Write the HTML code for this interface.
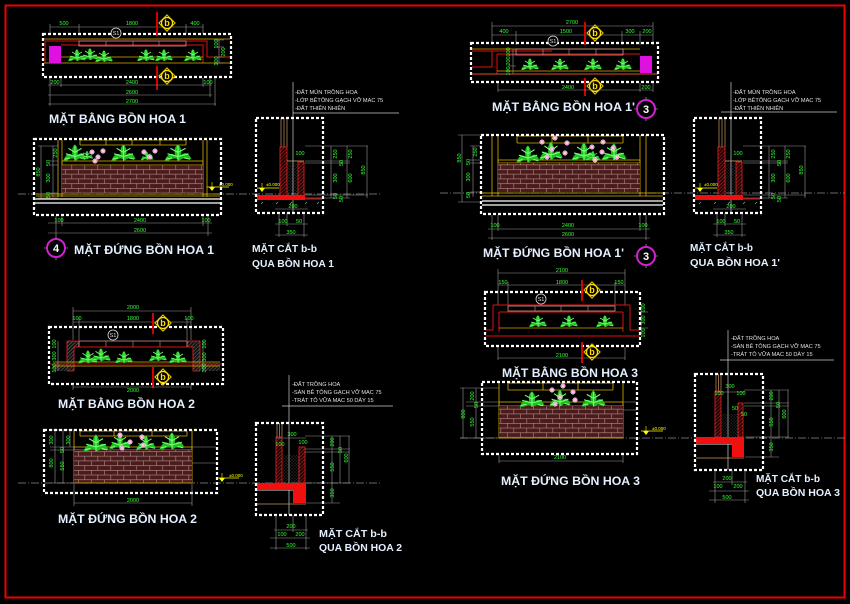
<!DOCTYPE html>
<html><head><meta charset="utf-8">
<style>
html,body{margin:0;padding:0;background:#000}
svg{display:block}
.t{font:bold 12px "Liberation Sans",sans-serif;fill:#e4f0ff}
.s{font:bold 10.5px "Liberation Sans",sans-serif;fill:#e4f0ff}
.d{font:5.5px "Liberation Sans",sans-serif;fill:#3f3}
.n{font:5.6px "Liberation Sans",sans-serif;fill:#e0e0e0}
.e{font:4.5px "Liberation Sans",sans-serif;fill:#ff0}
.bx{fill:none;stroke:#fff;stroke-width:2.2;stroke-dasharray:3 2}
.dl{stroke:#9a9a9a;stroke-width:.6;fill:none}
.y{stroke:#d8b000;stroke-width:.8;fill:none}
.r{stroke:#e01010;stroke-width:1;fill:none}
.cl{stroke:#8a8a8a;stroke-width:.7;stroke-dasharray:8 2 1 2;fill:none}
.mb{font:bold 9px "Liberation Sans",sans-serif;fill:#ffe000}
</style></head><body>
<svg width="850" height="604" viewBox="0 0 850 604" xmlns="http://www.w3.org/2000/svg" xmlns:xlink="http://www.w3.org/1999/xlink">
<defs>
<pattern id="br" width="13" height="9.4" patternUnits="userSpaceOnUse">
<rect width="13" height="9.4" fill="#4a1c1c"/>
<path d="M0 .3H13M0 5H13M.3 0V4.7M6.8 4.7V9.4" stroke="#b08888" stroke-width=".6"/>
</pattern>
<pattern id="ht" width="2.5" height="2.5" patternUnits="userSpaceOnUse" patternTransform="rotate(45)">
<rect width="2.5" height="2.5" fill="#200"/><line x1="0" y1="0" x2="0" y2="2.5" stroke="#e44" stroke-width=".7"/>
</pattern>
<pattern id="hg" width="2.5" height="2.5" patternUnits="userSpaceOnUse" patternTransform="rotate(45)">
<rect width="2.5" height="2.5" fill="#111"/><line x1="0" y1="0" x2="0" y2="2.5" stroke="#999" stroke-width=".7"/>
</pattern>
<pattern id="dt" width="3" height="3" patternUnits="userSpaceOnUse">
<circle cx="1" cy="1" r=".4" fill="#aaa"/><circle cx="2.4" cy="2.2" r=".3" fill="#777"/>
</pattern>
<g id="sh">
<path d="M1 13 Q4 6 8 9 Q7 3 10 1 Q13 4 12 9 Q16 5 19 12 Q14 10 11 13 Q8 10 4 13Z" fill="#1fbf1f"/>
<path d="M10 13V2M10 7L5 4M10 7L15 4M10 10L3 8M10 10L17 8M6 11L2 12M14 11L18 12" stroke="#7f7" stroke-width=".8" fill="none"/>
</g>
<g id="fl"><circle r="2.3" fill="#f4a0d0" stroke="#fff" stroke-width=".4"/><circle r=".8" fill="#fff"/></g>
<g id="mk"><path d="M0 -8L8 0L0 8L-8 0Z" fill="none" stroke="#e0c000" stroke-width="1.2"/><circle r="5.5" fill="#000" stroke="#ffe000" stroke-width="1.2"/></g>
<g id="elv"><path d="M0 0L6 0L3 4Z" fill="#ff0"/><line x1="-2" y1="0" x2="20" y2="0" stroke="#ff0" stroke-width=".7"/><line x1="3" y1="-5" x2="3" y2="0" stroke="#ff0" stroke-width=".6"/></g>
</defs>

<rect x="5.5" y="5.5" width="839" height="592" fill="none" stroke="#e00" stroke-width="2"/>

<!-- centerlines -->
<path class="cl" d="M18 194H380M440 193H845M18 483H380M460 438H845"/>

<!-- ===== PLAN 1 ===== -->
<g>
<path class="dl" d="M50 27H203M50 24V34M79 24V34M186 24V34M203 24V34"/>
<text class="d" x="64" y="25" text-anchor="middle">500</text>
<text class="d" x="132" y="25" text-anchor="middle">1800</text>
<text class="d" x="195" y="25" text-anchor="middle">400</text>
<line x1="44" y1="39" x2="230" y2="39" class="y"/>
<path class="r" d="M45 41H207V57H230M45 41V63M61 45H203V63"/>
<line x1="61" y1="57" x2="203" y2="57" class="y"/>
<line x1="44" y1="63" x2="230" y2="63" class="y"/>
<rect x="79" y="41" width="107" height="5" fill="none" stroke="#c89090" stroke-width=".8"/>
<path d="M106 41V46M133 41V46M159 41V46" stroke="#c89090" stroke-width=".6"/>
<rect x="49" y="46" width="12" height="17" fill="#e010e0"/>
<use xlink:href="#sh" transform="translate(67 48)"/>
<use xlink:href="#sh" transform="translate(80 47)"/>
<use xlink:href="#sh" transform="translate(94 49)"/>
<use xlink:href="#sh" transform="translate(136 48)"/>
<use xlink:href="#sh" transform="translate(154 48)"/>
<use xlink:href="#sh" transform="translate(183 48)"/>
<path class="dl" d="M219 40V63M214 40H224M214 47H224M214 57H224M214 63H224"/>
<text class="d" transform="rotate(-90 218 44)" x="218" y="44" text-anchor="middle">100</text>
<text class="d" transform="rotate(-90 225 52)" x="225" y="52" text-anchor="middle">200</text>
<text class="d" transform="rotate(-90 218 61)" x="218" y="61" text-anchor="middle">100</text>
<rect class="bx" x="43" y="34" width="188" height="43"/>
<line x1="157" y1="12" x2="157" y2="36" stroke="#e00" stroke-width="1.8"/>
<line x1="157" y1="66" x2="157" y2="90" stroke="#e00" stroke-width="1.8"/>
<use xlink:href="#mk" x="167" y="23"/><text class="mb" x="167" y="26" text-anchor="middle">b</text>
<use xlink:href="#mk" x="167" y="76"/><text class="mb" x="167" y="79" text-anchor="middle">b</text>
<circle cx="116" cy="33" r="5" fill="#000" stroke="#ddd" stroke-width=".8"/>
<text class="n" x="116" y="35" text-anchor="middle">S1</text>
<path class="dl" d="M48 85H212M48 95H212M48 104H216M50 78V106M61 78V87M203 78V87M210 78V97M215 78V106"/>
<text class="d" x="55" y="84" text-anchor="middle">200</text>
<text class="d" x="132" y="84" text-anchor="middle">2400</text>
<text class="d" x="208" y="84" text-anchor="middle">100</text>
<text class="d" x="132" y="94" text-anchor="middle">2600</text>
<text class="d" x="132" y="103" text-anchor="middle">2700</text>
<text class="t" x="49" y="123" textLength="137" lengthAdjust="spacingAndGlyphs">MẶT BẰNG BỒN HOA 1</text>
</g>

<!-- ===== ELEVATION 1 ===== -->
<g>
<path class="y" d="M80 140H186M80 145H186M80 140V145M106 140V145M132 140V145M160 140V145M186 140V145"/>
<path class="y" d="M58 140V197M62 140V197M203 140V197M207 140V197"/>
<rect x="62" y="161" width="141" height="4" fill="none" stroke="#d8b000" stroke-width=".8"/>
<rect x="62" y="165" width="141" height="28" fill="url(#br)"/>
<path class="y" d="M36 194H220M36 196H220"/>
<path d="M35 199H220M35 203H220" stroke="#fff" stroke-width="1.2"/>
<use xlink:href="#sh" transform="translate(62 143) scale(1.3 1.35)"/>
<use xlink:href="#sh" transform="translate(110 143) scale(1.35 1.35)"/>
<use xlink:href="#sh" transform="translate(163 143) scale(1.5 1.35)"/>
<use xlink:href="#sh" transform="translate(80 150) scale(.7)"/>
<use xlink:href="#sh" transform="translate(140 151) scale(.7)"/>
<use xlink:href="#fl" x="92" y="152"/><use xlink:href="#fl" x="98" y="157"/><use xlink:href="#fl" x="103" y="151"/><use xlink:href="#fl" x="95" y="161"/>
<use xlink:href="#fl" x="144" y="152"/><use xlink:href="#fl" x="150" y="157"/><use xlink:href="#fl" x="155" y="151"/>
<path class="dl" d="M41 146V198M38 146H58M38 198H58M53 146V197M50 161H58M50 165H58M50 193H58"/>
<text class="d" transform="rotate(-90 40 172)" x="40" y="172" text-anchor="middle">850</text>
<text class="d" transform="rotate(-90 57 153)" x="57" y="153" text-anchor="middle">250</text>
<text class="d" transform="rotate(-90 50 163)" x="50" y="163" text-anchor="middle">50</text>
<text class="d" transform="rotate(-90 50 178)" x="50" y="178" text-anchor="middle">300</text>
<text class="d" transform="rotate(-90 50 195)" x="50" y="195" text-anchor="middle">50</text>
<use xlink:href="#elv" x="209" y="187"/>
<text class="e" x="219" y="186">±0.000</text>
<rect class="bx" x="34" y="139" width="187" height="76"/>
<path class="dl" d="M48 223H212M48 233H212M56 216V236M62 216V226M203 216V226M208 216V236"/>
<text class="d" x="59" y="222" text-anchor="middle">100</text>
<text class="d" x="140" y="222" text-anchor="middle">2400</text>
<text class="d" x="206" y="222" text-anchor="middle">100</text>
<text class="d" x="140" y="232" text-anchor="middle">2600</text>
<path d="M56 236V260M44 248H68" stroke="#ccc" stroke-width=".6"/>
<circle cx="56" cy="248" r="9" fill="#000" stroke="#d020d0" stroke-width="2"/>
<text x="56" y="252" text-anchor="middle" style="font:bold 11px 'Liberation Sans',sans-serif;fill:#fff">4</text>
<text class="t" x="74" y="254" textLength="140" lengthAdjust="spacingAndGlyphs">MẶT ĐỨNG BỒN HOA 1</text>
</g>

<!-- ===== SECTION 1 ===== -->
<g id="s1g">
<line x1="293" y1="82" x2="293" y2="213" stroke="#ccc" stroke-width=".7"/>
<text class="n" x="295" y="94">-ĐẤT MÙN TRỒNG HOA</text>
<text class="n" x="295" y="102">-LỚP BÊTÔNG GẠCH VỠ MAC 75</text>
<text class="n" x="295" y="110">-ĐẤT THIÊN NHIÊN</text>
<line x1="293" y1="113" x2="399" y2="113" stroke="#ccc" stroke-width=".7"/>
<path d="M281 118V147M284 118V147M287 118V147" stroke="#c89860" stroke-width=".7"/>
<rect x="280" y="147" width="7" height="50" fill="url(#ht)" stroke="#e22" stroke-width=".8"/>
<rect x="287" y="163" width="11" height="32" fill="url(#dt)"/>
<rect x="298" y="162" width="6" height="35" fill="url(#ht)" stroke="#e22" stroke-width=".8"/>
<line x1="287" y1="161" x2="304" y2="161" stroke="#d8b070" stroke-width=".8"/>
<rect x="257" y="195" width="48" height="5" fill="#f01010"/>
<line x1="305" y1="199" x2="322" y2="199" stroke="#f01010" stroke-width="1"/>
<use xlink:href="#elv" x="259" y="188"/>
<text class="e" x="266" y="186">±0.000</text>
<path d="M261 204l2 -2M276 204l2 -2M290 204l2 -2M305 204l2 -2M317 204l2 -2" stroke="#aaa" stroke-width=".6"/>
<path class="dl" d="M305 146H368M305 161H350M305 163H350M305 195H368M305 198H350M331 146V198M347 146V198M367 146V198"/>
<text class="d" transform="rotate(-90 337 154)" x="337" y="154" text-anchor="middle">250</text>
<text class="d" transform="rotate(-90 343 163)" x="343" y="163" text-anchor="middle">50</text>
<text class="d" transform="rotate(-90 337 178)" x="337" y="178" text-anchor="middle">300</text>
<text class="d" transform="rotate(-90 337 196)" x="337" y="196" text-anchor="middle">50</text>
<text class="d" transform="rotate(-90 343 199)" x="343" y="199" text-anchor="middle">50</text>
<text class="d" transform="rotate(-90 352 154)" x="352" y="154" text-anchor="middle">250</text>
<text class="d" transform="rotate(-90 352 178)" x="352" y="178" text-anchor="middle">600</text>
<text class="d" transform="rotate(-90 365 170)" x="365" y="170" text-anchor="middle">850</text>
<text class="d" x="300" y="155" text-anchor="middle">100</text>
<rect class="bx" x="256" y="118" width="67" height="95"/>
<path class="dl" d="M279 213V237M287 213V226M304 213V237M275 209H308M275 224H308M275 235H308"/>
<text class="d" x="293" y="208" text-anchor="middle">200</text>
<text class="d" x="283" y="223" text-anchor="middle">100</text>
<text class="d" x="299" y="223" text-anchor="middle">50</text>
<text class="d" x="291" y="234" text-anchor="middle">350</text>
</g>
<text class="s" x="252" y="252" textLength="65" lengthAdjust="spacingAndGlyphs">MẶT CẮT b-b</text>
<text class="s" x="252" y="267" textLength="82" lengthAdjust="spacingAndGlyphs">QUA BỒN HOA 1</text>

<!-- ===== SECTION 1' ===== -->
<g transform="translate(438 0)">
<line x1="293" y1="82" x2="293" y2="213" stroke="#ccc" stroke-width=".7"/>
<text class="n" x="295" y="94">-ĐẤT MÙN TRỒNG HOA</text>
<text class="n" x="295" y="102">-LỚP BÊTÔNG GẠCH VỠ MAC 75</text>
<text class="n" x="295" y="110">-ĐẤT THIÊN NHIÊN</text>
<line x1="283" y1="112" x2="399" y2="112" stroke="#ccc" stroke-width=".7"/>
<path d="M281 118V147M284 118V147M287 118V147" stroke="#c89860" stroke-width=".7"/>
<rect x="280" y="147" width="7" height="50" fill="url(#ht)" stroke="#e22" stroke-width=".8"/>
<rect x="287" y="163" width="11" height="32" fill="url(#dt)"/>
<rect x="298" y="162" width="6" height="35" fill="url(#ht)" stroke="#e22" stroke-width=".8"/>
<line x1="287" y1="161" x2="304" y2="161" stroke="#d8b070" stroke-width=".8"/>
<rect x="257" y="195" width="48" height="5" fill="#f01010"/>
<line x1="305" y1="199" x2="322" y2="199" stroke="#f01010" stroke-width="1"/>
<use xlink:href="#elv" x="259" y="188"/>
<text class="e" x="266" y="186">±0.000</text>
<path d="M261 204l2 -2M276 204l2 -2M290 204l2 -2M305 204l2 -2M317 204l2 -2" stroke="#aaa" stroke-width=".6"/>
<path class="dl" d="M305 146H368M305 161H350M305 163H350M305 195H368M305 198H350M331 146V198M347 146V198M367 146V198"/>
<text class="d" transform="rotate(-90 337 154)" x="337" y="154" text-anchor="middle">250</text>
<text class="d" transform="rotate(-90 343 163)" x="343" y="163" text-anchor="middle">50</text>
<text class="d" transform="rotate(-90 337 178)" x="337" y="178" text-anchor="middle">300</text>
<text class="d" transform="rotate(-90 337 196)" x="337" y="196" text-anchor="middle">50</text>
<text class="d" transform="rotate(-90 343 199)" x="343" y="199" text-anchor="middle">50</text>
<text class="d" transform="rotate(-90 352 154)" x="352" y="154" text-anchor="middle">250</text>
<text class="d" transform="rotate(-90 352 178)" x="352" y="178" text-anchor="middle">600</text>
<text class="d" transform="rotate(-90 365 170)" x="365" y="170" text-anchor="middle">850</text>
<text class="d" x="300" y="155" text-anchor="middle">100</text>
<rect class="bx" x="256" y="118" width="67" height="95"/>
<path class="dl" d="M279 213V237M287 213V226M304 213V237M275 209H308M275 224H308M275 235H308"/>
<text class="d" x="293" y="208" text-anchor="middle">200</text>
<text class="d" x="283" y="223" text-anchor="middle">100</text>
<text class="d" x="299" y="223" text-anchor="middle">50</text>
<text class="d" x="291" y="234" text-anchor="middle">350</text>
</g>
<text class="s" x="690" y="251" textLength="63" lengthAdjust="spacingAndGlyphs">MẶT CẮT b-b</text>
<text class="s" x="690" y="266" textLength="90" lengthAdjust="spacingAndGlyphs">QUA BỒN HOA 1'</text>

<!-- ===== PLAN 1' ===== -->
<g>
<path class="dl" d="M492 26H653M492 35H653M492 22V45M516 31V45M622 31V45M640 31V45M653 22V45"/>
<text class="d" x="572" y="24" text-anchor="middle">2700</text>
<text class="d" x="504" y="33" text-anchor="middle">400</text>
<text class="d" x="566" y="33" text-anchor="middle">1500</text>
<text class="d" x="630" y="33" text-anchor="middle">300</text>
<text class="d" x="647" y="33" text-anchor="middle">200</text>
<line x1="472" y1="49" x2="640" y2="49" class="y"/>
<path class="r" d="M472 51H552M492 51V67H472M497 54H640M497 54V74"/>
<rect x="516" y="49" width="107" height="6" fill="none" stroke="#c89090" stroke-width=".8"/>
<path d="M543 49V55M569 49V55M596 49V55" stroke="#c89090" stroke-width=".6"/>
<line x1="497" y1="71" x2="640" y2="71" class="y"/>
<line x1="472" y1="74" x2="658" y2="74" stroke="#e05020" stroke-width=".9"/>
<rect x="640" y="56" width="12" height="17" fill="#e010e0"/>
<use xlink:href="#sh" transform="translate(520 57)"/>
<use xlink:href="#sh" transform="translate(550 57)"/>
<use xlink:href="#sh" transform="translate(583 57)"/>
<use xlink:href="#sh" transform="translate(613 57)"/>
<path class="dl" d="M513 49V74M508 55H516M508 66H516"/>
<text class="d" transform="rotate(-90 510 52)" x="510" y="52" text-anchor="middle">100</text>
<text class="d" transform="rotate(-90 510 61)" x="510" y="61" text-anchor="middle">200</text>
<text class="d" transform="rotate(-90 510 71)" x="510" y="71" text-anchor="middle">100</text>
<rect class="bx" x="471" y="43" width="187" height="39"/>
<line x1="585" y1="22" x2="585" y2="45" stroke="#e00" stroke-width="1.8"/>
<line x1="585" y1="78" x2="585" y2="96" stroke="#e00" stroke-width="1.8"/>
<use xlink:href="#mk" x="595" y="33"/><text class="mb" x="595" y="36" text-anchor="middle">b</text>
<use xlink:href="#mk" x="595" y="86"/><text class="mb" x="595" y="89" text-anchor="middle">b</text>
<circle cx="553" cy="41" r="5" fill="#000" stroke="#ddd" stroke-width=".8"/>
<text class="n" x="553" y="43" text-anchor="middle">S1</text>
<path class="dl" d="M498 90H653M498 83V92M640 83V92M653 83V92"/>
<text class="d" x="568" y="89" text-anchor="middle">2400</text>
<text class="d" x="646" y="89" text-anchor="middle">200</text>
<text class="t" x="492" y="111" textLength="143" lengthAdjust="spacingAndGlyphs">MẶT BẰNG BỒN HOA 1'</text>
<path d="M646 97V121M634 109H658" stroke="#ccc" stroke-width=".6"/>
<circle cx="646" cy="109" r="9" fill="#000" stroke="#d020d0" stroke-width="2"/>
<text x="646" y="113" text-anchor="middle" style="font:bold 11px 'Liberation Sans',sans-serif;fill:#fff">3</text>
</g>

<!-- ===== ELEVATION 1' ===== -->
<g>
<path class="y" d="M517 136H623M517 143H623M517 136V143M552 136V143M588 136V143M623 136V143"/>
<path class="y" d="M492 135V196M498 135V196M640 135V196M646 135V196"/>
<rect x="498" y="160" width="142" height="3" fill="none" stroke="#d8b000" stroke-width=".8"/>
<rect x="498" y="163" width="142" height="29" fill="url(#br)"/>
<path class="y" d="M482 193H663M482 196H663"/>
<path d="M482 201H663M482 205H663" stroke="#fff" stroke-width="1.2"/>
<use xlink:href="#sh" transform="translate(515 144) scale(1.3 1.4)"/>
<use xlink:href="#sh" transform="translate(538 140) scale(1.3 1.5)"/>
<use xlink:href="#sh" transform="translate(570 141) scale(1.4 1.5)"/>
<use xlink:href="#sh" transform="translate(600 142) scale(1.4 1.4)"/>
<use xlink:href="#sh" transform="translate(585 150) scale(.8)"/>
<use xlink:href="#fl" x="542" y="142"/><use xlink:href="#fl" x="555" y="138"/><use xlink:href="#fl" x="552" y="149"/>
<use xlink:href="#fl" x="567" y="143"/><use xlink:href="#fl" x="565" y="153"/><use xlink:href="#fl" x="547" y="157"/>
<use xlink:href="#fl" x="592" y="147"/><use xlink:href="#fl" x="603" y="142"/><use xlink:href="#fl" x="602" y="152"/>
<use xlink:href="#fl" x="613" y="148"/><use xlink:href="#fl" x="617" y="157"/><use xlink:href="#fl" x="595" y="160"/>
<path class="dl" d="M462 135V202M458 135H482M458 202H482M473 146V197M470 146H482M470 160H482M470 163H482M470 192H482"/>
<text class="d" transform="rotate(-90 461 158)" x="461" y="158" text-anchor="middle">850</text>
<text class="d" transform="rotate(-90 477 152)" x="477" y="152" text-anchor="middle">250</text>
<text class="d" transform="rotate(-90 470 162)" x="470" y="162" text-anchor="middle">50</text>
<text class="d" transform="rotate(-90 470 177)" x="470" y="177" text-anchor="middle">300</text>
<text class="d" transform="rotate(-90 470 195)" x="470" y="195" text-anchor="middle">50</text>
<rect class="bx" x="481" y="135" width="183" height="79"/>
<path class="dl" d="M488 229H650M488 238H650M492 215V240M498 215V231M640 215V231M646 215V240"/>
<text class="d" x="495" y="227" text-anchor="middle">100</text>
<text class="d" x="568" y="227" text-anchor="middle">2400</text>
<text class="d" x="643" y="227" text-anchor="middle">100</text>
<text class="d" x="568" y="236" text-anchor="middle">2600</text>
<text class="t" x="483" y="257" textLength="141" lengthAdjust="spacingAndGlyphs">MẶT ĐỨNG BỒN HOA 1'</text>
<path d="M646 244V268M634 256H658" stroke="#ccc" stroke-width=".6"/>
<circle cx="646" cy="256" r="9" fill="#000" stroke="#d020d0" stroke-width="2"/>
<text x="646" y="260" text-anchor="middle" style="font:bold 11px 'Liberation Sans',sans-serif;fill:#fff">3</text>
</g>

<!-- ===== PLAN 2 ===== -->
<g>
<path class="dl" d="M73 311H191M73 322H191M73 307V340M79 318V340M187 318V340M191 307V340"/>
<text class="d" x="133" y="309" text-anchor="middle">2000</text>
<text class="d" x="77" y="320" text-anchor="middle">100</text>
<text class="d" x="133" y="320" text-anchor="middle">1800</text>
<text class="d" x="189" y="320" text-anchor="middle">100</text>
<path d="M67 341H79V347H74V371H67Z" fill="url(#hg)" stroke="#e22" stroke-width=".8"/>
<path d="M200 341H187V347H193V371H200Z" fill="url(#hg)" stroke="#e22" stroke-width=".8"/>
<rect x="53" y="363" width="14" height="8" fill="url(#hg)"/>
<rect x="200" y="363" width="20" height="8" fill="url(#hg)"/>
<rect x="79" y="341" width="108" height="6" fill="none" stroke="#c89090" stroke-width=".8"/>
<path d="M106 341V347M133 341V347M160 341V347" stroke="#c89090" stroke-width=".6"/>
<path class="r" d="M74 347H193"/>
<path class="y" d="M53 362H220M53 366H220"/>
<line x1="50" y1="364" x2="222" y2="364" stroke="#e01010" stroke-width=".8"/>
<use xlink:href="#sh" transform="translate(77 349) scale(1.1)"/>
<use xlink:href="#sh" transform="translate(90 347) scale(1.1)"/>
<use xlink:href="#sh" transform="translate(114 350)"/>
<use xlink:href="#sh" transform="translate(148 348)"/>
<use xlink:href="#sh" transform="translate(168 350)"/>
<path class="dl" d="M58 341V371M203 341V371"/>
<text class="d" transform="rotate(-90 56 344)" x="56" y="344" text-anchor="middle">100</text>
<text class="d" transform="rotate(-90 56 356)" x="56" y="356" text-anchor="middle">300</text>
<text class="d" transform="rotate(-90 56 368)" x="56" y="368" text-anchor="middle">100</text>
<text class="d" transform="rotate(-90 206 344)" x="206" y="344" text-anchor="middle">100</text>
<text class="d" transform="rotate(-90 206 357)" x="206" y="357" text-anchor="middle">300</text>
<text class="d" transform="rotate(-90 206 368)" x="206" y="368" text-anchor="middle">100</text>
<rect class="bx" x="49" y="327" width="174" height="57"/>
<line x1="153" y1="313" x2="153" y2="334" stroke="#e00" stroke-width="1.8"/>
<line x1="153" y1="367" x2="153" y2="388" stroke="#e00" stroke-width="1.8"/>
<use xlink:href="#mk" x="163" y="323"/><text class="mb" x="163" y="326" text-anchor="middle">b</text>
<use xlink:href="#mk" x="163" y="377"/><text class="mb" x="163" y="380" text-anchor="middle">b</text>
<circle cx="113" cy="335" r="5" fill="#000" stroke="#ddd" stroke-width=".8"/>
<text class="n" x="113" y="337" text-anchor="middle">S1</text>
<path class="dl" d="M73 387H191M73 384V390M191 384V390"/>
<text class="d" x="133" y="392" text-anchor="middle">2000</text>
<text class="t" x="58" y="408" textLength="137" lengthAdjust="spacingAndGlyphs">MẶT BẰNG BỒN HOA 2</text>
</g>

<!-- ===== ELEVATION 2 ===== -->
<g>
<path class="y" d="M80 431H187M80 436H187M80 431V436M114 431V436M152 431V436M187 431V436"/>
<path class="y" d="M74 430V483M192 430V483"/>
<rect x="74" y="447" width="118" height="3" fill="none" stroke="#d8b000" stroke-width=".8"/>
<rect x="74" y="450" width="118" height="33" fill="url(#br)"/>
<path class="dl" d="M192 447H216M192 463H216"/>
<line x1="74" y1="483" x2="192" y2="483" class="y"/>
<use xlink:href="#sh" transform="translate(82 433) scale(1.4 1.4)"/>
<use xlink:href="#sh" transform="translate(108 432) scale(1.2 1.3)"/>
<use xlink:href="#sh" transform="translate(135 434) scale(1.1 1.2)"/>
<use xlink:href="#sh" transform="translate(158 431) scale(1.4 1.4)"/>
<use xlink:href="#fl" x="120" y="435"/><use xlink:href="#fl" x="130" y="442"/><use xlink:href="#fl" x="142" y="437"/>
<use xlink:href="#fl" x="143" y="445"/><use xlink:href="#fl" x="122" y="448"/>
<path class="dl" d="M55 430V483M63 430V483M70 430V447M50 430H74M50 447H74M50 450H74M50 483H74"/>
<text class="d" transform="rotate(-90 53 463)" x="53" y="463" text-anchor="middle">800</text>
<text class="d" transform="rotate(-90 53 440)" x="53" y="440" text-anchor="middle">300</text>
<text class="d" transform="rotate(-90 70 440)" x="70" y="440" text-anchor="middle">300</text>
<text class="d" transform="rotate(-90 64 450)" x="64" y="450" text-anchor="middle">50</text>
<text class="d" transform="rotate(-90 64 466)" x="64" y="466" text-anchor="middle">550</text>
<use xlink:href="#elv" x="219" y="478"/>
<text class="e" x="229" y="477">±0.000</text>
<rect class="bx" x="44" y="430" width="173" height="63"/>
<path class="dl" d="M74 503H192M74 484V506M192 484V506"/>
<text class="d" x="133" y="502" text-anchor="middle">2000</text>
<text class="t" x="58" y="523" textLength="139" lengthAdjust="spacingAndGlyphs">MẶT ĐỨNG BỒN HOA 2</text>
</g>

<!-- ===== SECTION 2 ===== -->
<g>
<line x1="289" y1="375" x2="289" y2="515" stroke="#ccc" stroke-width=".7"/>
<text class="n" x="292" y="386">-ĐẤT TRỒNG HOA</text>
<text class="n" x="292" y="394">-SÀN BÊ TÔNG GẠCH VỠ MAC 75</text>
<text class="n" x="292" y="402">-TRÁT TÔ VỮA MAC 50 DÀY 15</text>
<line x1="282" y1="406" x2="393" y2="406" stroke="#ccc" stroke-width=".7"/>
<path d="M277 423V437M279.5 423V437M282 423V437" stroke="#c89860" stroke-width=".7"/>
<rect x="276" y="437" width="6" height="46" fill="url(#ht)" stroke="#e22" stroke-width=".8"/>
<rect x="283" y="455" width="16" height="28" fill="url(#dt)"/>
<rect x="299" y="447" width="6" height="36" fill="url(#ht)" stroke="#e22" stroke-width=".8"/>
<line x1="276" y1="438" x2="306" y2="438" stroke="#999" stroke-width=".6"/>
<text class="d" x="292" y="436" text-anchor="middle">300</text>
<text class="d" x="280" y="446" text-anchor="middle">100</text>
<text class="d" x="303" y="444" text-anchor="middle">100</text>
<path d="M257 483H306V503H293V490H257Z" fill="#f01010"/>
<line x1="257" y1="490.5" x2="293" y2="490.5" stroke="#ddd" stroke-width=".6"/>
<line x1="257" y1="504" x2="306" y2="504" stroke="#c89860" stroke-width=".8"/>
<path class="dl" d="M305 436H350M305 449H350M305 452H350M306 483H350M306 503H340M332 436V503M340 436V483M349 436V483"/>
<text class="d" transform="rotate(-90 334 442)" x="334" y="442" text-anchor="middle">200</text>
<text class="d" transform="rotate(-90 342 450)" x="342" y="450" text-anchor="middle">50</text>
<text class="d" transform="rotate(-90 334 467)" x="334" y="467" text-anchor="middle">550</text>
<text class="d" transform="rotate(-90 348 458)" x="348" y="458" text-anchor="middle">600</text>
<text class="d" transform="rotate(-90 334 493)" x="334" y="493" text-anchor="middle">350</text>
<rect class="bx" x="256" y="423" width="67" height="92"/>
<path class="dl" d="M276 515V550M293 515V532M306 515V550M274 530H308M270 538H310M270 548H310"/>
<text class="d" x="291" y="528" text-anchor="middle">200</text>
<text class="d" x="282" y="536" text-anchor="middle">100</text>
<text class="d" x="300" y="536" text-anchor="middle">200</text>
<text class="d" x="291" y="547" text-anchor="middle">500</text>
</g>
<text class="s" x="319" y="537" textLength="68" lengthAdjust="spacingAndGlyphs">MẶT CẮT b-b</text>
<text class="s" x="319" y="551" textLength="83" lengthAdjust="spacingAndGlyphs">QUA BỒN HOA 2</text>

<!-- ===== PLAN 3 ===== -->
<g>
<path class="dl" d="M498 273H625M498 285H625M498 269V305M508 282V305M615 282V305M625 269V305"/>
<text class="d" x="562" y="272" text-anchor="middle">2100</text>
<text class="d" x="503" y="284" text-anchor="middle">150</text>
<text class="d" x="562" y="284" text-anchor="middle">1800</text>
<text class="d" x="619" y="284" text-anchor="middle">150</text>
<path class="r" d="M493 305H630M493 305V330H485M630 305V330H640M499 312H623M499 312V332M623 312V332"/>
<line x1="485" y1="336" x2="640" y2="336" stroke="#e01010" stroke-width="1"/>
<rect x="508" y="306" width="107" height="5" fill="none" stroke="#c89090" stroke-width=".8"/>
<path d="M535 306V311M561 306V311M588 306V311" stroke="#c89090" stroke-width=".6"/>
<line x1="499" y1="328" x2="623" y2="328" stroke="#d8a000" stroke-width=".8"/>
<use xlink:href="#sh" transform="translate(528 314)"/>
<use xlink:href="#sh" transform="translate(559 314)"/>
<use xlink:href="#sh" transform="translate(595 314)"/>
<path class="dl" d="M641 305V336M638 312H648M638 328H648"/>
<text class="d" transform="rotate(-90 645 308)" x="645" y="308" text-anchor="middle">100</text>
<text class="d" transform="rotate(-90 645 320)" x="645" y="320" text-anchor="middle">300</text>
<text class="d" transform="rotate(-90 645 333)" x="645" y="333" text-anchor="middle">100</text>
<rect class="bx" x="485" y="292" width="155" height="54"/>
<line x1="582" y1="280" x2="582" y2="301" stroke="#e00" stroke-width="1.8"/>
<line x1="582" y1="342" x2="582" y2="363" stroke="#e00" stroke-width="1.8"/>
<use xlink:href="#mk" x="592" y="290"/><text class="mb" x="592" y="293" text-anchor="middle">b</text>
<use xlink:href="#mk" x="592" y="352"/><text class="mb" x="592" y="355" text-anchor="middle">b</text>
<circle cx="541" cy="299" r="5" fill="#000" stroke="#ddd" stroke-width=".8"/>
<text class="n" x="541" y="301" text-anchor="middle">S1</text>
<path class="dl" d="M498 358H625M498 347V360M625 347V360"/>
<text class="d" x="562" y="357" text-anchor="middle">2100</text>
<text class="t" x="502" y="377" textLength="136" lengthAdjust="spacingAndGlyphs">MẶT BẰNG BỒN HOA 3</text>
</g>

<!-- ===== ELEVATION 3 ===== -->
<g>
<path class="y" d="M508 383H613M508 390H613M508 383V390M543 383V390M578 383V390M613 383V390"/>
<path class="y" d="M499 382V438M623 382V438"/>
<rect x="499" y="402" width="124" height="4" fill="none" stroke="#d8b000" stroke-width=".8"/>
<rect x="499" y="406" width="124" height="32" fill="url(#br)"/>
<line x1="499" y1="438" x2="623" y2="438" class="y"/>
<path class="dl" d="M623 410H637M623 402H637"/>
<use xlink:href="#sh" transform="translate(518 390) scale(1.4 1.3)"/>
<use xlink:href="#sh" transform="translate(548 388) scale(1.2 1.4)"/>
<use xlink:href="#sh" transform="translate(580 389) scale(1.35 1.35)"/>
<use xlink:href="#fl" x="552" y="390"/><use xlink:href="#fl" x="563" y="386"/><use xlink:href="#fl" x="560" y="397"/>
<use xlink:href="#fl" x="575" y="400"/><use xlink:href="#fl" x="555" y="404"/><use xlink:href="#fl" x="573" y="392"/>
<path class="dl" d="M463 388V438M476 388V438M460 388H499M466 402H499M466 406H499M460 438H499"/>
<text class="d" transform="rotate(-90 465 414)" x="465" y="414" text-anchor="middle">800</text>
<text class="d" transform="rotate(-90 474 396)" x="474" y="396" text-anchor="middle">200</text>
<text class="d" transform="rotate(-90 478 405)" x="478" y="405" text-anchor="middle">50</text>
<text class="d" transform="rotate(-90 474 422)" x="474" y="422" text-anchor="middle">550</text>
<use xlink:href="#elv" x="643" y="431"/>
<text class="e" x="652" y="430">±0.000</text>
<rect class="bx" x="482" y="382" width="155" height="72"/>
<path class="dl" d="M499 461H623M499 455V463M623 455V463"/>
<text class="d" x="560" y="459" text-anchor="middle">2100</text>
<text class="t" x="501" y="485" textLength="139" lengthAdjust="spacingAndGlyphs">MẶT ĐỨNG BỒN HOA 3</text>
</g>

<!-- ===== SECTION 3 ===== -->
<g transform="translate(439 -46)">
<line x1="289" y1="376" x2="289" y2="516" stroke="#ccc" stroke-width=".7"/>
<text class="n" x="292" y="386">-ĐẤT TRỒNG HOA</text>
<text class="n" x="292" y="394">-SÀN BÊ TÔNG GẠCH VỠ MAC 75</text>
<text class="n" x="292" y="402">-TRÁT TÔ VỮA MAC 50 DÀY 15</text>
<line x1="281" y1="406" x2="395" y2="406" stroke="#ccc" stroke-width=".7"/>
<path d="M277 420V437M279.5 420V437M282 420V437" stroke="#c89860" stroke-width=".7"/>
<rect x="276" y="437" width="6" height="46" fill="url(#ht)" stroke="#e22" stroke-width=".8"/>
<rect x="283" y="460" width="16" height="23" fill="url(#dt)"/>
<rect x="299" y="449" width="5" height="34" fill="url(#ht)" stroke="#e22" stroke-width=".8"/>
<line x1="276" y1="438" x2="306" y2="438" stroke="#999" stroke-width=".6"/>
<text class="d" x="291" y="434" text-anchor="middle">300</text>
<text class="d" x="280" y="441" text-anchor="middle">100</text>
<text class="d" x="302" y="441" text-anchor="middle">100</text>
<text class="d" x="296" y="456" text-anchor="middle">50</text>
<text class="d" x="305" y="462" text-anchor="middle">50</text>
<path d="M257 483H305V503H293V490H257Z" fill="#f01010"/>
<line x1="257" y1="490.5" x2="293" y2="490.5" stroke="#ddd" stroke-width=".6"/>
<line x1="257" y1="504" x2="305" y2="504" stroke="#c89860" stroke-width=".8"/>
<path class="dl" d="M305 436H350M305 449H350M305 452H350M306 483H350M306 503H340M332 436V503M340 436V483M349 436V483"/>
<text class="d" transform="rotate(-90 334 442)" x="334" y="442" text-anchor="middle">200</text>
<text class="d" transform="rotate(-90 341 451)" x="341" y="451" text-anchor="middle">50</text>
<text class="d" transform="rotate(-90 334 468)" x="334" y="468" text-anchor="middle">550</text>
<text class="d" transform="rotate(-90 347 460)" x="347" y="460" text-anchor="middle">600</text>
<text class="d" transform="rotate(-90 334 493)" x="334" y="493" text-anchor="middle">350</text>
<rect class="bx" x="256" y="420" width="68" height="96"/>
<path class="dl" d="M276 516V549M293 516V531M306 516V549M274 528H308M270 537H310M270 546H310"/>
<text class="d" x="288" y="526" text-anchor="middle">200</text>
<text class="d" x="279" y="534" text-anchor="middle">100</text>
<text class="d" x="299" y="534" text-anchor="middle">200</text>
<text class="d" x="288" y="545" text-anchor="middle">500</text>
</g>
<text class="s" x="756" y="482" textLength="64" lengthAdjust="spacingAndGlyphs">MẶT CẮT b-b</text>
<text class="s" x="756" y="496" textLength="84" lengthAdjust="spacingAndGlyphs">QUA BỒN HOA 3</text>

</svg>
</body></html>
